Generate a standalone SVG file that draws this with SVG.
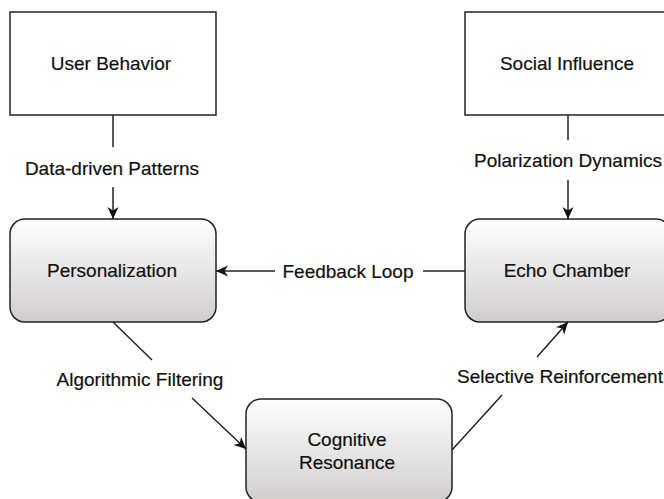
<svg xmlns="http://www.w3.org/2000/svg" width="664" height="499" viewBox="0 0 664 499">
<defs>
<linearGradient id="g" x1="0" y1="0" x2="0" y2="1">
<stop offset="0" stop-color="#ffffff"/>
<stop offset="1" stop-color="#d0cdcd"/>
</linearGradient>
<marker id="arr" viewBox="0 0 12 12" refX="12" refY="6" markerWidth="12" markerHeight="12" markerUnits="userSpaceOnUse" orient="auto">
<path d="M0,0.5 L12,6 L0,11.5 L3.5,6 Z" fill="#111"/>
</marker>
<style>
.plain{fill:#fff;stroke:#222;stroke-width:1.5}
.round{fill:url(#g);stroke:#222;stroke-width:1.5}
text{font-family:"Liberation Sans",Arial,sans-serif;font-size:19px;fill:#111;stroke:#111;stroke-width:0.2;text-anchor:middle}
.ln{stroke:#222;stroke-width:1.5;fill:none}
</style>
</defs>
<rect width="664" height="499" fill="#fff"/>
<g id="user-behavior"><rect class="plain" x="10" y="12" width="206" height="103"/><text x="111" y="70">User Behavior</text></g>
<g id="social-influence"><rect class="plain" x="465" y="12" width="206" height="103"/><text x="567" y="70">Social Influence</text></g>
<g id="personalization"><rect class="round" x="10" y="219" width="206" height="103" rx="15"/><text x="112" y="277">Personalization</text></g>
<g id="echo-chamber"><rect class="round" x="465" y="219" width="206" height="103" rx="15"/><text x="567" y="277">Echo Chamber</text></g>
<g id="cognitive-resonance"><rect class="round" x="246" y="399" width="206" height="103" rx="15"/><text x="347" y="446">Cognitive</text><text x="347" y="469">Resonance</text></g>
<g id="connectors">
<line class="ln" x1="113" y1="115" x2="113" y2="147"/>
<line class="ln" x1="113" y1="187" x2="113" y2="219" marker-end="url(#arr)"/>
<text x="112" y="175">Data-driven Patterns</text>
<line class="ln" x1="568" y1="115" x2="568" y2="140"/>
<line class="ln" x1="568" y1="180" x2="568" y2="219" marker-end="url(#arr)"/>
<text x="568" y="167">Polarization Dynamics</text>
<line class="ln" x1="465" y1="271" x2="423" y2="271"/>
<line class="ln" x1="275" y1="271" x2="216" y2="271" marker-end="url(#arr)"/>
<text x="348" y="278">Feedback Loop</text>
<line class="ln" x1="113" y1="322" x2="152" y2="360"/>
<line class="ln" x1="192" y1="398" x2="246" y2="449" marker-end="url(#arr)"/>
<text x="140" y="386">Algorithmic Filtering</text>
<line class="ln" x1="452" y1="450" x2="502" y2="395"/>
<line class="ln" x1="537" y1="357" x2="568" y2="322" marker-end="url(#arr)"/>
<text x="560" y="383">Selective Reinforcement</text>
</g>
</svg>
